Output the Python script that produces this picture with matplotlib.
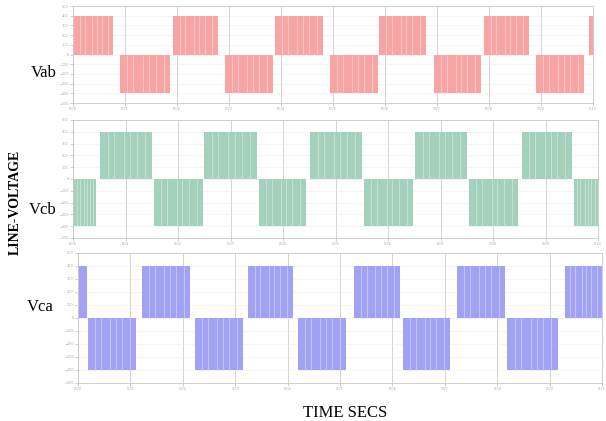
import numpy as np
import matplotlib
matplotlib.use('Agg')
import matplotlib.pyplot as plt

##########################
### Waveform pulse data ###
##########################

# Pulse edges (seconds), sign +1 / -1 per pulse
vab_start = [0.0002, 0.0090, 0.0192, 0.0292, 0.0388, 0.0494, 0.0588, 0.0694, 0.0790, 0.0890, 0.0992]
vab_end = [0.0077, 0.0187, 0.0279, 0.0385, 0.0481, 0.0587, 0.0679, 0.0785, 0.0877, 0.0983, 0.1000]
vab_sign = [1, -1, 1, -1, 1, -1, 1, -1, 1, -1, 1]

vcb_start = [0.0002, 0.0051, 0.0154, 0.0250, 0.0354, 0.0451, 0.0554, 0.0651, 0.0754, 0.0855, 0.0954]
vcb_end = [0.0044, 0.0150, 0.0248, 0.0350, 0.0444, 0.0550, 0.0648, 0.0750, 0.0848, 0.0950, 0.1000]
vcb_sign = [-1, 1, -1, 1, -1, 1, -1, 1, -1, 1, -1]

vca_start = [0.0002, 0.0019, 0.0122, 0.0223, 0.0324, 0.0420, 0.0527, 0.0620, 0.0723, 0.0819, 0.0929]
vca_end = [0.0017, 0.0111, 0.0214, 0.0315, 0.0410, 0.0511, 0.0615, 0.0710, 0.0815, 0.0916, 0.1000]
vca_sign = [1, -1, 1, -1, 1, -1, 1, -1, 1, -1, 1]

# Line voltage amplitude and axis range (V)
amplitude = 400
y_limit = 500

# Where the PWM notches sit inside a pulse (fraction of pulse width)
notch_fracs = [0.15, 0.27, 0.46, 0.58, 0.71, 0.87]

panels = [
    ('Vab', vab_start, vab_end, vab_sign, '#f8a4a4', '#fbc4c4'),
    ('Vcb', vcb_start, vcb_end, vcb_sign, '#a4d1bb', '#c2e1d2'),
    ('Vca', vca_start, vca_end, vca_sign, '#a2a2f5', '#c2c2f9'),
]

# Axes boxes in figure fractions [left, bottom, width, height]
boxes = [
    [0.1205, 0.7553, 0.8580, 0.2304],
    [0.1205, 0.4347, 0.8663, 0.2803],
    [0.1287, 0.0903, 0.8647, 0.3088],
]
label_pos = [(0.094, 0.827), (0.094, 0.501), (0.088, 0.271)]

fig = plt.figure(figsize=(6.06, 4.21), dpi=100)

for (name, starts, ends, signs, color, notch_color), box, lpos in zip(panels, boxes, label_pos):
    ax = fig.add_axes(box)
    for s, e, sg in zip(starts, ends, signs):
        ax.fill_between([s, e], 0, sg * amplitude, color=color, linewidth=0, zorder=2)
        # lighter notch stripes inside the pulse
        if e - s > 0.003:
            for f in notch_fracs:
                xn = s + f * (e - s)
                ax.vlines(xn, 0, sg * amplitude, color=notch_color, linewidth=0.8, zorder=3)
    ax.set_xlim(0, 0.1)
    ax.set_ylim(-y_limit, y_limit)
    ax.set_xticks(np.arange(0, 0.1001, 0.01))
    ax.set_yticks(np.arange(-y_limit, y_limit + 1, 100))
    ax.set_xticklabels(['%.2f' % v for v in np.arange(0, 0.1001, 0.01)])
    ax.tick_params(labelsize=2.5, labelcolor='#aaaaaa', colors='#bbbbbb',
                   length=2, width=0.5, pad=1)
    ax.grid(axis='x', color='#cccccc', linewidth=0.6, zorder=1)
    ax.grid(axis='y', color='#eeeeee', linewidth=0.4, zorder=1)
    for sp in ax.spines.values():
        sp.set_color('#c8c8c8')
        sp.set_linewidth(0.6)
    fig.text(lpos[0], lpos[1], name, ha='right', va='center',
             family='Liberation Serif', fontsize=12)

fig.text(0.025, 0.52, 'LINE-VOLTAGE', rotation=90, ha='center', va='center',
         family='Liberation Serif', fontweight='bold', fontsize=10)
fig.text(0.569, 0.02, 'TIME SECS', ha='center', va='center',
         family='Liberation Serif', fontsize=12)

fig.savefig('out.png', dpi=100)
